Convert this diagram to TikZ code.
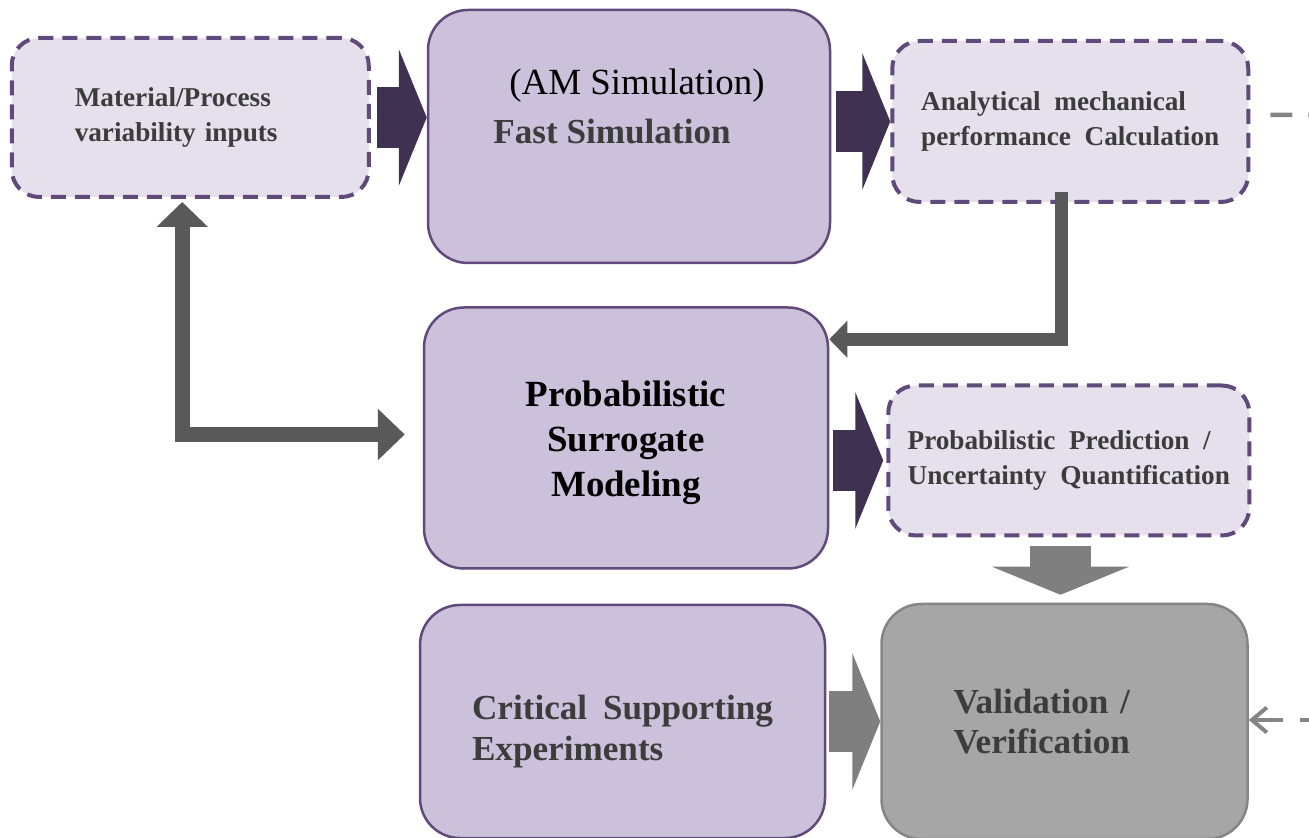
\documentclass[tikz,border=0pt]{standalone}
\usepackage{fontspec}
\setmainfont{Liberation Serif}
\usepackage{xcolor}
\usetikzlibrary{positioning,arrows.meta}
\definecolor{lavlight}{HTML}{E5E0EC}
\definecolor{lavmid}{HTML}{CCC1DA}
\definecolor{purpline}{HTML}{604A7B}
\definecolor{purpdark}{HTML}{3F3151}
\definecolor{greyarrow}{HTML}{7F7F7F}
\definecolor{greyelbow}{HTML}{595959}
\definecolor{greybox}{HTML}{A6A6A6}
\definecolor{greyline}{HTML}{858585}
\definecolor{txtgrey}{HTML}{3C3C3C}
\newcommand{\smallbf}{\fontsize{15.5}{20}\selectfont\bfseries\spaceskip=0.5em}
\newcommand{\largebf}{\fontsize{20}{23}\selectfont\bfseries\spaceskip=0.45em}

\begin{document}
\begin{tikzpicture}[node distance=1.12cm,
    inbox/.style={draw=purpline,fill=lavlight,line width=0.08cm,
                  dash pattern=on 0.3cm off 0.18cm,rounded corners=0.55cm,
                  align=left,text=txtgrey,font=\smallbf},
    stagebox/.style={draw=purpline,fill=lavmid,line width=0.05cm,
                     rounded corners=0.8cm,align=left,text=txtgrey,font=\largebf},
    checkbox/.style={stagebox,draw=greyline,fill=greybox},
    fatbar/.style={draw=#1,line width=1.22cm,
                   -{Triangle[length=0.56cm,width=2.72cm]}},
    elbow/.style={draw=greyelbow,line width=0.26cm},
    dashlink/.style={draw=greyline,line width=0.09cm,
                     dash pattern=on 0.44cm off 0.32cm}]

  \useasboundingbox (0,0) rectangle (26.18,16.74);

  \node[stagebox,minimum width=8.04cm,minimum height=5.06cm,text depth=1.2cm]
        (fast) at (12.58,14.01)
        {\hspace*{0.32cm}{\fontsize{21}{28}\mdseries\selectfont\spaceskip=0pt\color{black}(AM Simulation)}\\[5pt]Fast\hspace{0.25em}Simulation};
  \node[inbox,minimum width=7.14cm,minimum height=3.18cm,text width=4.62cm,
        left=of fast,yshift=0.38cm] (mat) {Material/Process\\variability inputs};
  \node[inbox,minimum width=7.12cm,minimum height=3.22cm,
        right=1.18cm of fast,yshift=0.3cm] (calc) {Analytical mechanical\\performance Calculation};
  \node[stagebox,minimum width=8.08cm,minimum height=5.22cm,align=center,text=black,
        font=\fontsize{21}{25.6}\selectfont\bfseries,text height=2.5cm,
        below=0.84cm of fast,xshift=-0.06cm] (surr) {Probabilistic\\Surrogate\\Modeling};
  \node[inbox,minimum width=7.22cm,minimum height=3cm,
        right=1.14cm of surr,yshift=-0.45cm] (pred) {Probabilistic Prediction /\\Uncertainty Quantification};
  \node[stagebox,minimum width=8.1cm,minimum height=4.66cm,text height=1.69cm,
        below=0.68cm of surr,xshift=-0.07cm] (expt) {Critical Supporting\\Experiments};
  \node[checkbox,minimum width=7.32cm,minimum height=4.7cm,text width=4.44cm,
        right=1.08cm of expt] (valid) {Validation /\\Verification};

  \coordinate (rimtop) at (26.18,14.44);
  \coordinate (rimlow) at (26.18,2.34);

  % block arrows
  \draw[fatbar=purpdark,shorten <=0.12cm] (mat.east) -- (mat.east -| fast.west);
  \draw[fatbar=purpdark,shorten <=0.1cm] (fast.east |- calc.west) -- (calc.west);
  \draw[fatbar=purpdark,shorten <=0.08cm,shorten >=0.06cm] (surr.east |- pred.west) -- (pred.west);
  \draw[fatbar=greyarrow,shorten <=0.18cm,shorten >=0.16cm]
       ([xshift=-0.08cm]valid.north |- pred.south) -- ([xshift=-0.08cm]valid.north);
  \draw[fatbar=greyarrow,shorten <=0.06cm] (expt.east |- valid.west) -- (valid.west);

  % elbow arrows
  \draw[elbow,-{Triangle[length=0.36cm,width=0.72cm]}]
       ([xshift=-0.18cm,yshift=0.24cm]calc.south) |- ([yshift=-0.66cm]surr.north east);
  \draw[elbow,line width=0.31cm,{Triangle[length=0.5cm,width=1cm]}-{Triangle[length=0.54cm,width=1cm]}]
       ([xshift=-0.16cm,yshift=-0.06cm]mat.south) |- ([xshift=-0.36cm,yshift=0.07cm]surr.west);

  % links leaving the frame
  \draw[dashlink] ([xshift=0.4cm,yshift=0.13cm]calc.east) -- (rimtop);
  \draw[dashlink,line width=0.08cm,dash pattern=on 0.7cm off 0.34cm,dash phase=0.52cm,
        -{Straight Barb[length=0.3cm,width=0.5cm]}]
       (rimlow) -- (rimlow -| valid.east);
\end{tikzpicture}
\end{document}
